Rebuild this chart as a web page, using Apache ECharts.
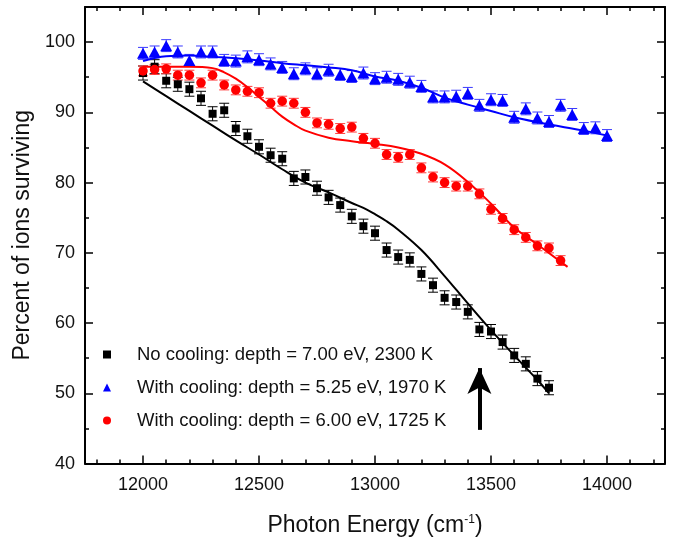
<!DOCTYPE html>
<html><head><meta charset="utf-8">
<script src="https://cdn.jsdelivr.net/npm/echarts@6/dist/echarts.min.js"></script>
<style>html,body{margin:0;padding:0;background:#fff}#c{width:674px;height:539px}</style>
</head><body><div id="c"></div>
<script>
// ---------- data ----------
const noCoolX = [12000,12050,12100,12150,12200,12250,12300,12350,12400,12450,12500,12550,12600,12650,12700,12750,12800,12850,12900,12950,13000,13050,13100,13150,13200,13250,13300,13350,13400,13450,13500,13550,13600,13650,13700,13750];
const noCoolY = [95.6,96.5,94.5,94.0,93.3,92.0,89.8,90.3,87.7,86.6,85.1,83.9,83.4,80.6,80.8,79.2,77.9,76.8,75.2,73.8,72.8,70.4,69.4,69.0,67.0,65.4,63.6,63.0,61.6,59.1,58.8,57.3,55.4,54.2,52.1,50.8];
const noCoolErr = 1.0;

const cool525X = [12000,12050,12100,12150,12200,12250,12300,12350,12400,12450,12500,12550,12600,12650,12700,12750,12800,12850,12900,12950,13000,13050,13100,13150,13200,13250,13300,13350,13400,13450,13500,13550,13600,13650,13700,13750,13800,13850,13900,13950,14000];
const cool525Y = [98.4,98.6,99.5,98.6,97.4,98.6,98.6,97.4,97.3,97.9,97.5,96.9,96.4,95.5,96.2,95.5,96.0,95.4,95.1,95.6,94.8,95.0,94.7,94.3,93.7,92.2,92.2,92.3,92.7,91.0,91.8,91.7,89.3,90.5,89.2,88.7,91.0,89.7,87.7,87.8,86.7];
const cool525Err = 0.85;

const cool600X = [12000,12050,12100,12150,12200,12250,12300,12350,12400,12450,12500,12550,12600,12650,12700,12750,12800,12850,12900,12950,13000,13050,13100,13150,13200,13250,13300,13350,13400,13450,13500,13550,13600,13650,13700,13750,13800];
const cool600Y = [95.9,96.1,96.2,95.3,95.3,94.2,95.3,93.9,93.2,93.0,92.8,91.3,91.6,91.3,90.0,88.5,88.3,87.7,87.9,86.3,85.6,84.0,83.6,84.0,82.1,80.8,80.0,79.5,79.5,78.4,76.2,74.9,73.3,72.2,71.0,70.7,68.9];
const cool600Err = 0.7;

// model fits
const fitNoCoolX = [12000,12100,12200,12300,12400,12500,12600,12700,12800,12900,12950,13000,13050,13100,13200,13300,13400,13500,13600,13700,13750];
const fitNoCoolY = [94.4,92.3,90.2,88.1,86.0,84.0,81.9,80.0,78.6,77.1,76.4,75.5,74.5,73.3,70.4,66.7,62.8,59.0,55.4,51.9,50.0];
const fit525X = [12000,12100,12200,12300,12400,12500,12600,12700,12800,12900,13000,13100,13200,13300,13400,13500,13600,13700,13800,13900,14000];
const fit525Y = [97.3,98.0,98.1,97.9,97.7,97.4,97.0,96.7,96.4,96.0,95.1,94.5,93.5,92.1,91.1,90.2,89.3,88.6,88.0,87.4,86.7];
const fit600X = [12000,12100,12200,12300,12350,12400,12450,12500,12550,12600,12650,12700,12800,12900,13000,13100,13200,13300,13400,13500,13600,13700,13830];
const fit600Y = [96.5,96.5,96.5,96.3,95.7,94.8,93.6,92.2,90.8,89.4,88.3,87.4,86.4,85.9,85.5,85.0,84.1,82.6,80.1,77.0,73.6,71.2,68.0];

// legend names
const names = ['No cooling: depth = 7.00 eV, 2300 K','With cooling: depth = 5.25 eV, 1970 K','With cooling: depth = 6.00 eV, 1725 K'];

// arrow
const arrowX = 13450, arrowFrom = 44.8, arrowTo = 53.6;

// axes ticks
const xMajor = [12000,12500,13000,13500,14000];
const xMinor = [11800,11900,12100,12200,12300,12400,12600,12700,12800,12900,13100,13200,13300,13400,13600,13700,13800,13900,14100,14200];
const yMajor = [40,50,60,70,80,90,100];
const yMinor = [45,55,65,75,85,95,105];

// ---------- chart ----------
const FONT = 'Liberation Sans, Arial, sans-serif';
const chart = echarts.init(document.getElementById('c'));
const pairs = (xs, ys) => xs.map((x, i) => [x, ys[i]]);

function errBars(xs, ys, err, color, cap, name) {
  return {
    type: 'custom', name: name + ' err', silent: true, z: 2,
    xAxisIndex: 0, yAxisIndex: 0,
    renderItem: function (params, api) {
      const x = api.value(0), lo = api.value(1), hi = api.value(2);
      const p1 = api.coord([x, lo]), p2 = api.coord([x, hi]);
      const w = cap / 2;
      const st = { stroke: color, lineWidth: 1 };
      return { type: 'group', children: [
        { type: 'line', shape: { x1: p1[0], y1: p1[1], x2: p2[0], y2: p2[1] }, style: st },
        { type: 'line', shape: { x1: p1[0] - w, y1: p1[1], x2: p1[0] + w, y2: p1[1] }, style: st },
        { type: 'line', shape: { x1: p2[0] - w, y1: p2[1], x2: p2[0] + w, y2: p2[1] }, style: st }
      ]};
    },
    encode: { x: 0, y: [1, 2] },
    data: xs.map((x, i) => [x, ys[i] - err, ys[i] + err])
  };
}

const grid = { left: 85, right: 9, top: 7, bottom: 75.4, outerBoundsMode: 'none', containLabel: false };
const lineCol = '#000';
function xAx(pos, gi, major, showLabel, name) {
  return {
    type: 'value', gridIndex: gi, position: pos, min: 11750, max: 14250,
    axisLine: { show: gi === 0, lineStyle: { color: lineCol, width: 2 } },
    axisTick: { show: true, inside: true, length: major ? 8 : 4, customValues: major ? xMajor : xMinor, lineStyle: { color: lineCol, width: 1.5 } },
    axisLabel: { show: showLabel, customValues: xMajor, formatter: v => String(v), color: '#111', fontSize: 18, fontFamily: FONT, margin: 12 },
    splitLine: { show: false },
    name: name || '', nameLocation: 'middle', nameGap: 50,
    nameTextStyle: { color: '#111', fontSize: 23, fontFamily: FONT,
      rich: { sup: { fontSize: 12, fontFamily: FONT, color: '#111', verticalAlign: 'top', padding: [0, 0, 12, 0] } } }
  };
}
function yAx(pos, gi, major, showLabel, name) {
  return {
    type: 'value', gridIndex: gi, position: pos, min: 40, max: 105,
    axisLine: { show: gi === 0, lineStyle: { color: lineCol, width: 2 } },
    axisTick: { show: true, inside: true, length: major ? 8 : 4, customValues: major ? yMajor : yMinor, lineStyle: { color: lineCol, width: 1.5 } },
    axisLabel: { show: showLabel, customValues: yMajor, formatter: v => String(v), color: '#111', fontSize: 18, fontFamily: FONT, margin: 10 },
    splitLine: { show: false },
    name: name || '', nameLocation: 'middle', nameGap: 49,
    nameTextStyle: { color: '#111', fontSize: 23, fontFamily: FONT }
  };
}

const option = {
  backgroundColor: '#fff',
  animation: false,
  grid: [Object.assign({}, grid), Object.assign({}, grid)],
  xAxis: [
    xAx('bottom', 0, true, true, 'Photon Energy (cm{sup|-1})'),
    xAx('top', 0, true, false),
    xAx('bottom', 1, false, false),
    xAx('top', 1, false, false)
  ],
  yAxis: [
    yAx('left', 0, true, true, 'Percent of ions surviving'),
    yAx('right', 0, true, false),
    yAx('left', 1, false, false),
    yAx('right', 1, false, false)
  ],
  legend: {
    orient: 'vertical', left: 103, top: 345, padding: 0,
    itemWidth: 8, itemHeight: 8, itemGap: 14,
    textStyle: { fontSize: 18.5, fontFamily: FONT, color: '#111', lineHeight: 18, padding: [0, 0, 0, 21] },
    data: [
      { name: names[0], icon: 'rect', itemStyle: { color: '#000' } },
      { name: names[1], icon: 'triangle', itemStyle: { color: '#0000ff' } },
      { name: names[2], icon: 'circle', itemStyle: { color: '#ff0000' } }
    ]
  },
  series: [
    errBars(noCoolX, noCoolY, noCoolErr, '#000', 10, 'a'),
    errBars(cool525X, cool525Y, cool525Err, '#3a3aff', 10, 'b'),
    errBars(cool600X, cool600Y, cool600Err, '#ff3a3a', 10, 'c'),
    { type: 'line', smooth: 0.4, showSymbol: false, silent: true, z: 3,
      lineStyle: { color: '#000', width: 2 }, data: pairs(fitNoCoolX, fitNoCoolY) },
    { type: 'line', smooth: 0.4, showSymbol: false, silent: true, z: 3,
      lineStyle: { color: '#0000ff', width: 2 }, data: pairs(fit525X, fit525Y) },
    { type: 'line', smooth: 0.4, showSymbol: false, silent: true, z: 3,
      lineStyle: { color: '#ff0000', width: 2 }, data: pairs(fit600X, fit600Y) },
    { type: 'scatter', name: names[0], symbol: 'rect', symbolSize: 8, z: 4,
      itemStyle: { color: '#000', opacity: 1 }, data: pairs(noCoolX, noCoolY),
      markLine: {
        silent: true, animation: false, label: { show: false },
        symbol: ['none', 'arrow'], symbolSize: [18, 26],
        lineStyle: { color: '#000', width: 4, type: 'solid' },
        data: [[{ coord: [arrowX, arrowFrom] }, { coord: [arrowX, arrowTo] }]]
      } },
    { type: 'scatter', name: names[1], symbol: 'triangle', symbolSize: [12, 11], z: 4,
      itemStyle: { color: '#0000ff', opacity: 1 }, data: pairs(cool525X, cool525Y) },
    { type: 'scatter', name: names[2], symbol: 'circle', symbolSize: 9.5, z: 4,
      itemStyle: { color: '#ff0000', opacity: 1 }, data: pairs(cool600X, cool600Y) }
  ]
};
chart.setOption(option);
</script>
</body></html>
